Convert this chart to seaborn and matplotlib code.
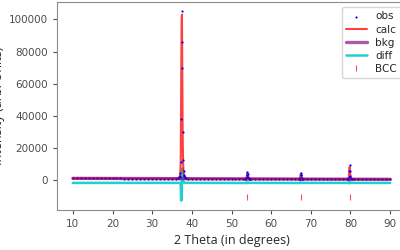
import pandas as pd
import numpy as np
import seaborn as sns
import matplotlib.pyplot as plt

# baseline scan points (obs == calc there)
base1_theta = list(range(10, 37))
base1_int = [860, 845, 840, 832, 820, 815, 805, 800, 790, 780, 778, 768, 760, 752,
             748, 735, 730, 722, 712, 708, 700, 690, 688, 678, 672, 665, 660]
base2_theta = list(range(39, 54))
base2_int = [635, 628, 620, 612, 605, 598, 590, 582, 575, 568, 560, 552, 545, 538, 530]
base3_theta = list(range(55, 67))
base3_int = [512, 505, 498, 490, 482, 475, 468, 460, 452, 445, 438, 430]
base4_theta = list(range(69, 80))
base4_int = [408, 400, 392, 385, 378, 370, 362, 355, 348, 340, 333]
base5_theta = list(range(81, 91))
base5_int = [318, 310, 302, 295, 288, 280, 272, 265, 258, 250]

# peak windows
peak1_theta = [36.5, 36.6, 36.7, 36.8, 36.9, 37.0, 37.1, 37.2, 37.3, 37.4, 37.5,
               37.6, 37.7, 37.8, 37.9, 38.0, 38.1, 38.2, 38.3, 38.4, 38.5]
peak1_obs = [900, 1000, 1150, 1400, 1800, 2600, 4500, 11000, 38000, 86000, 105000,
             70000, 30000, 12000, 5500, 3200, 2200, 1600, 1250, 1050, 950]
peak1_calc = [880, 980, 1120, 1380, 1800, 2700, 4900, 12500, 49000, 94000, 103000,
              61000, 25000, 10500, 5000, 3000, 2100, 1550, 1220, 1030, 930]

peak2_theta = [53.4, 53.5, 53.6, 53.7, 53.8, 53.9, 54.0, 54.1, 54.2, 54.3, 54.4, 54.5, 54.6]
peak2_obs = [540, 560, 620, 800, 1400, 3200, 4700, 3300, 1500, 850, 640, 570, 540]
peak2_calc = [530, 550, 610, 780, 1450, 3400, 4300, 3100, 1400, 820, 620, 560, 530]

peak3_theta = [66.9, 67.0, 67.1, 67.2, 67.3, 67.4, 67.5, 67.6, 67.7, 67.8, 67.9, 68.0, 68.1]
peak3_obs = [440, 460, 510, 680, 1200, 2800, 4300, 3000, 1300, 720, 520, 460, 440]
peak3_calc = [430, 450, 500, 660, 1250, 2950, 3900, 2800, 1200, 700, 510, 455, 435]

peak4_theta = [79.2, 79.3, 79.4, 79.5, 79.6, 79.7, 79.8, 79.9, 80.0, 80.1, 80.2, 80.3, 80.4]
peak4_obs = [340, 370, 450, 750, 1800, 5200, 8900, 5600, 2100, 900, 480, 380, 340]
peak4_calc = [335, 360, 440, 730, 1850, 5500, 8100, 5300, 1950, 860, 470, 375, 335]

bkg_theta = [10, 30, 50, 70, 90]
bkg_int = [850, 700, 550, 400, 250]

bcc_theta = [37.5, 54.0, 67.5, 79.8]

diff_offset = -2000
bcc_level = -11000

# assemble the scan
parts = [
    (base1_theta, base1_int, base1_int),
    (peak1_theta, peak1_obs, peak1_calc),
    (base2_theta, base2_int, base2_int),
    (peak2_theta, peak2_obs, peak2_calc),
    (base3_theta, base3_int, base3_int),
    (peak3_theta, peak3_obs, peak3_calc),
    (base4_theta, base4_int, base4_int),
    (peak4_theta, peak4_obs, peak4_calc),
    (base5_theta, base5_int, base5_int),
]
df = pd.concat([pd.DataFrame({'theta': t, 'obs': o, 'calc': c}) for t, o, c in parts],
               ignore_index=True)
df['diff'] = df['obs'] - df['calc'] + diff_offset

sns.set_style('ticks', {'axes.edgecolor': '0.55', 'xtick.color': '0.3', 'ytick.color': '0.3'})
plt.rcParams['font.family'] = ['DejaVu Sans']

fig = plt.figure(figsize=(4, 2.5), dpi=100)
ax = fig.add_axes([0.1425, 0.16, 0.8725, 0.832])

sns.scatterplot(data=df, x='theta', y='obs', ax=ax, color='blue', marker='.', s=10,
                linewidth=0, label='obs', zorder=4)
sns.lineplot(data=df, x='theta', y='calc', ax=ax, color='red', alpha=0.75, lw=1.5,
             label='calc', zorder=3)
sns.lineplot(x=bkg_theta, y=bkg_int, ax=ax, color='purple', alpha=0.65, lw=2.4,
             label='bkg', zorder=5)
sns.lineplot(data=df, x='theta', y='diff', ax=ax, color='#20d0d0', lw=1.8,
             label='diff', zorder=2)
ax.plot(bcc_theta, [bcc_level] * len(bcc_theta), ls='none', marker='|', color='red',
        alpha=0.7, ms=4, mew=0.8, label='BCC', zorder=1)

ax.tick_params(labelsize=7.5, length=3, width=0.8)
ax.set_xticks(range(10, 91, 10))
ax.set_xlabel('2 Theta (in degrees)', fontsize=9, color='0.15', family='Open Sans')
ax.set_ylabel('Intensity (arb. Units)', fontsize=9, color='0.15', family='Open Sans')
ax.yaxis.set_label_coords(-0.149, 0.5)
ax.xaxis.set_label_coords(0.5, -0.115)

ax.legend(loc='upper right', fontsize=7.5, handlelength=2, labelspacing=0.3,
          markerscale=1, frameon=True)

fig.savefig('out.png', dpi=100)
plt.close()
